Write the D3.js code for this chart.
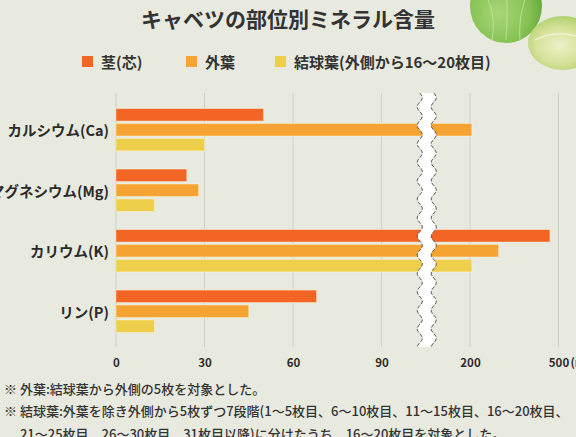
<!DOCTYPE html>
<html>
<head>
<meta charset="utf-8">
<script src="https://cdn.jsdelivr.net/npm/d3@7"></script>
<style>
  html, body { margin: 0; padding: 0; background: #e9eadf; overflow: hidden; }
  svg { display: block; font-family: "Noto Sans CJK JP", "Noto Sans", sans-serif; }
</style>
</head>
<body>
<div id="chart"></div>
<script>
// Data (mg/100g)
const categories = ['カルシウム(Ca)', 'マグネシウム(Mg)', 'カリウム(K)', 'リン(P)'];
const seriesNames = ['茎(芯)', '外葉', '結球葉(外側から16〜20枚目)'];
const stemValues = [50, 24, 471, 68];
const outerLeafValues = [206, 28, 297, 45];
const headLeafValues = [30, 13, 206, 13];
const tickValues = [0, 30, 60, 90, 200, 500];
const unitLabel = '(mg/100g)';
const title = 'キャベツの部位別ミネラル含量';
const notes = [
    '※ 外葉:結球葉から外側の5枚を対象とした。',
    '※ 結球葉:外葉を除き外側から5枚ずつ7段階(1〜5枚目、6〜10枚目、11〜15枚目、16〜20枚目、',
    '　 21〜25枚目、26〜30枚目、31枚目以降)に分けたうち、16〜20枚目を対象とした。'
];
const colors = ['#f26524', '#f5a434', '#eecf4c'];

const W = 576, H = 437;
const plotTop = 93, plotBottom = 347;

const svg = d3.select('#chart')
    .append('svg')
    .attr('width', W)
    .attr('height', H);

svg.append('rect').attr('width', W).attr('height', H).attr('fill', '#e9eadf');

// Cabbage decoration (top right)
const defs = svg.append('defs');
const g1 = defs.append('radialGradient').attr('id', 'cab1').attr('cx', '40%').attr('cy', '60%').attr('r', '60%');
g1.append('stop').attr('offset', '0%').attr('stop-color', '#a9d67a');
g1.append('stop').attr('offset', '70%').attr('stop-color', '#86c253');
g1.append('stop').attr('offset', '100%').attr('stop-color', '#6aac3e');
const g2 = defs.append('radialGradient').attr('id', 'cab2').attr('cx', '45%').attr('cy', '55%').attr('r', '60%');
g2.append('stop').attr('offset', '0%').attr('stop-color', '#eef0c8');
g2.append('stop').attr('offset', '55%').attr('stop-color', '#d6e29a');
g2.append('stop').attr('offset', '100%').attr('stop-color', '#a9cc66');

const deco = svg.append('g');
deco.append('ellipse').attr('cx', 506).attr('cy', 6).attr('rx', 36).attr('ry', 37).attr('fill', 'url(#cab1)');
[[-14, 0.5], [0, 0.2], [14, -0.2]].forEach(([dx, k]) => {
    deco.append('path')
        .attr('d', `M${506 + dx},${40} Q${506 + dx + 10 * k},${15} ${506 + dx * 1.6},${-10}`)
        .attr('fill', 'none').attr('stroke', '#c5e6a0').attr('stroke-width', 1.2).attr('opacity', 0.7);
});
deco.append('ellipse').attr('cx', 563).attr('cy', 43).attr('rx', 35).attr('ry', 27).attr('fill', 'url(#cab2)');
deco.append('path').attr('d', 'M535,40 Q555,30 576,36').attr('fill', 'none')
    .attr('stroke', '#f6f4d8').attr('stroke-width', 1.5).attr('opacity', 0.8);

// Title
svg.append('text')
    .attr('x', W / 2).attr('y', 18)
    .attr('text-anchor', 'middle').attr('dominant-baseline', 'central')
    .attr('fill', '#333').style('font-size', '21px').style('font-weight', 700)
    .text(title);

// Legend
const legendX = [82, 186, 275];
const legend = svg.append('g');
seriesNames.forEach((name, i) => {
    legend.append('rect')
        .attr('x', legendX[i]).attr('y', 56).attr('width', 11).attr('height', 11)
        .attr('fill', colors[i]);
    legend.append('text')
        .attr('x', legendX[i] + 19).attr('y', 61.5)
        .attr('dominant-baseline', 'central')
        .attr('fill', '#333').style('font-size', '15px').style('font-weight', 700)
        .text(name);
});

// Scales
const x = d3.scaleLinear()
    .domain(tickValues)
    .range(tickValues.map((d, i) => 116 + i * 88.5));

const y0 = d3.scaleBand()
    .domain(categories)
    .range([99.5, 341.5])
    .paddingInner(0.3)
    .paddingOuter(0.15);

const y1 = d3.scaleBand()
    .domain(seriesNames)
    .range([0, y0.bandwidth()])
    .paddingInner(0.167);

// Grid lines
svg.append('g')
    .selectAll('line')
    .data(tickValues)
    .enter()
    .append('line')
    .attr('x1', d => x(d)).attr('x2', d => x(d))
    .attr('y1', plotTop).attr('y2', plotBottom)
    .attr('stroke', '#cfd0c5').attr('stroke-width', 1);

// Bars
const series = [stemValues, outerLeafValues, headLeafValues];
const rows = categories.map((c, ci) => seriesNames.map((s, si) => ({ cat: c, name: s, value: series[si][ci], i: si })));

svg.append('g')
    .selectAll('g')
    .data(rows)
    .enter()
    .append('g')
    .attr('transform', d => `translate(0,${y0(d[0].cat)})`)
    .selectAll('rect')
    .data(d => d)
    .enter()
    .append('rect')
    .attr('x', x(0))
    .attr('y', d => y1(d.name))
    .attr('width', d => x(d.value) - x(0))
    .attr('height', y1.bandwidth())
    .attr('fill', d => colors[d.i])
    .attr('stroke', 'rgba(255,245,220,0.55)')
    .attr('stroke-width', 0.8);

// Category labels
svg.append('g')
    .selectAll('text')
    .data(categories)
    .enter()
    .append('text')
    .attr('x', 109)
    .attr('y', d => y0(d) + y0.bandwidth() / 2)
    .attr('text-anchor', 'end').attr('dominant-baseline', 'central')
    .attr('fill', '#2b2b2b').style('font-size', '14.5px').style('font-weight', 700)
    .text(d => d);

// Axis break (wavy white strip)
const breakX = (x(90) + x(200)) / 2 + 1;
const wave = d3.range(plotTop, plotBottom + 0.5, 1).map(v => [2.6 * Math.sin((v - plotTop) / 18.5 * 2 * Math.PI), v]);
const left = wave.map(([o, v]) => [breakX - 7 + o, v]);
const right = wave.map(([o, v]) => [breakX + 7 + o, v]);
const line = d3.line().curve(d3.curveBasis);
svg.append('path')
    .attr('d', line(left.concat(right.slice().reverse())) + 'Z')
    .attr('fill', '#ffffff');
[left, right].forEach(edge => {
    svg.append('path')
        .attr('d', line(edge))
        .attr('fill', 'none')
        .attr('stroke', '#5a5a5a')
        .attr('stroke-width', 1)
        .attr('stroke-dasharray', '4,1.5');
});

// X axis labels
const axis = svg.append('g')
    .attr('transform', 'translate(0,362)')
    .call(d3.axisBottom(x).tickValues(tickValues).tickSize(0).tickPadding(0).tickFormat(d3.format('d')));
axis.select('.domain').remove();
axis.selectAll('text')
    .attr('y', 0).attr('dy', null)
    .attr('dominant-baseline', 'central')
    .attr('fill', '#2b2b2b')
    .style('font-family', '"Noto Sans CJK JP", sans-serif')
    .style('font-size', '11.5px').style('font-weight', 700);
svg.append('text')
    .attr('x', x(500) + 12).attr('y', 362)
    .attr('dominant-baseline', 'central')
    .attr('fill', '#2b2b2b').style('font-size', '11.5px').style('font-weight', 700)
    .text(unitLabel);

// Footnotes
svg.append('g')
    .selectAll('text')
    .data(notes)
    .enter()
    .append('text')
    .attr('x', 4)
    .attr('y', (d, i) => 388 + i * 22.5)
    .attr('dominant-baseline', 'central')
    .attr('fill', '#333').style('font-size', '13px').style('font-weight', 500)
    .text(d => d);
</script>
</body>
</html>
